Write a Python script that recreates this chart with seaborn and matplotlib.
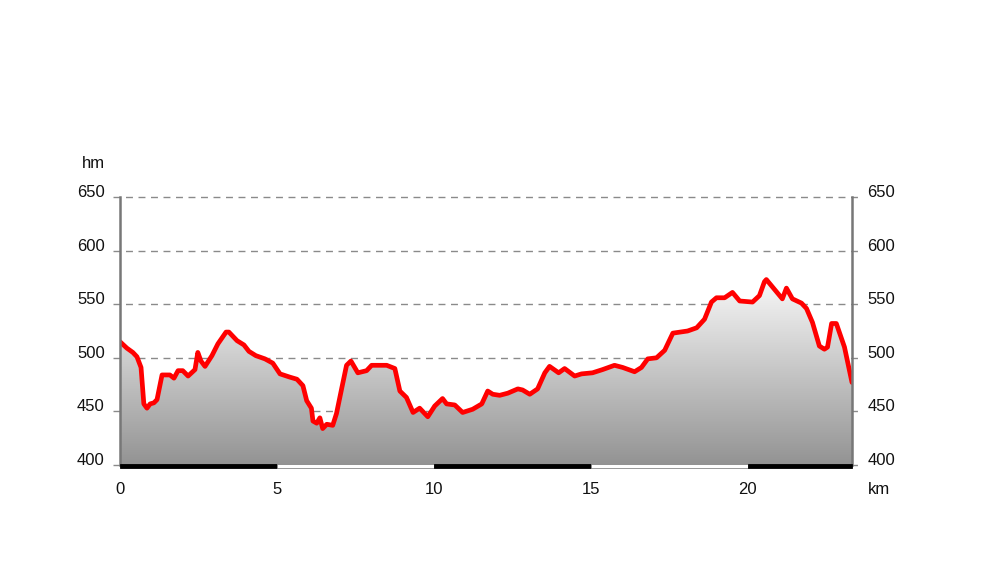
import numpy as np
import pandas as pd
import matplotlib
matplotlib.use("Agg")
import matplotlib.pyplot as plt
import matplotlib.transforms as mtransforms
from matplotlib.patches import Rectangle
import seaborn as sns

# ---- data ----
km = [0.0, 0.22, 0.41, 0.54, 0.67, 0.76, 0.86, 0.96, 1.08, 1.18, 1.34, 1.59, 1.72, 1.85,
      2.0, 2.17, 2.39, 2.48, 2.58, 2.71, 2.93, 3.12, 3.38, 3.47, 3.73, 3.95, 4.11, 4.33,
      4.62, 4.87, 5.1, 5.41, 5.64, 5.83, 5.95, 6.1, 6.15, 6.27, 6.37, 6.46, 6.59, 6.78,
      6.9, 7.07, 7.22, 7.36, 7.58, 7.86, 8.02, 8.5, 8.76, 8.92, 9.13, 9.34, 9.55, 9.81,
      10.03, 10.28, 10.41, 10.67, 10.92, 11.24, 11.53, 11.72, 11.88, 12.1, 12.36, 12.68,
      12.83, 13.06, 13.31, 13.54, 13.69, 13.98, 14.17, 14.49, 14.71, 15.06, 15.38, 15.76,
      16.02, 16.4, 16.62, 16.82, 17.1, 17.36, 17.62, 18.09, 18.38, 18.63, 18.85, 19.01,
      19.27, 19.52, 19.75, 20.16, 20.38, 20.54, 20.6, 21.11, 21.24, 21.43, 21.72, 21.88,
      22.07, 22.29, 22.45, 22.55, 22.68, 22.83, 23.09, 23.33]
elev = [515, 509, 505, 501, 491, 457, 453, 457, 458, 461, 484, 484, 481, 488,
        488, 483, 489, 505, 497, 492, 502, 513, 524, 524, 516, 512, 506, 502,
        499, 495, 485, 482, 480, 474, 460, 453, 441, 439, 444, 434, 438, 437,
        448, 472, 493, 497, 486, 488, 493, 493, 490, 469, 463, 449, 453, 445,
        455, 462, 457, 456, 449, 452, 457, 469, 466, 465, 467, 471,
        470, 466, 471, 486, 492, 486, 490, 483, 485, 486, 489, 493,
        491, 487, 491, 499, 500, 507, 523, 525, 528, 536, 552, 556,
        556, 561, 553, 552, 558, 571, 573, 555, 565, 555, 551, 546,
        533, 511, 508, 510, 532, 532, 510, 477]
y_ticks = [400, 450, 500, 550, 600, 650]
x_ticks = [0, 5, 10, 15, 20]
scale_edges = [0, 5, 10, 15, 20, 23.33]

df = pd.DataFrame({"km": km, "elev": elev})

sns.set_style("white")
plt.rcParams["font.family"] = ["Liberation Sans", "DejaVu Sans"]
FS = 12

fig = plt.figure(figsize=(10, 5.84), dpi=100)
ax = fig.add_axes([0.12, 1 - 465 / 584, 0.732, (465 - 197) / 584])
xmax = km[-1]

# gradient fill under the profile
grad = np.linspace(0, 1, 256).reshape(-1, 1)
cmap = matplotlib.colors.LinearSegmentedColormap.from_list("g", ["#939393", "#ffffff"])
im = ax.imshow(grad, aspect="auto", cmap=cmap, origin="lower",
               extent=[0, xmax, 400, 585], zorder=1)
poly = ax.fill_between(df["km"], df["elev"], 400, color="none", lw=0)
path = poly.get_paths()[0]
im.set_clip_path(path, transform=ax.transData)
ax.set_ylim(400, 650)
ax.set_xlim(0, xmax)

# grid lines (dashed)
for yv in y_ticks:
    ax.axhline(yv, xmin=-0.009, xmax=1.009, color="#8a8a8a", lw=1.0,
               ls=(0, (5, 4)), clip_on=False, zorder=0.5)

# profile line
sns.lineplot(data=df, x="km", y="elev", ax=ax, color="#ff0000", lw=3.4,
             zorder=5, solid_joinstyle="round", solid_capstyle="round")
ax.set_ylim(400, 650)
ax.set_xlim(0, xmax)

# vertical side lines
for s in ["top", "bottom"]:
    ax.spines[s].set_visible(False)
for s in ["left", "right"]:
    ax.spines[s].set_color("#777777")
    ax.spines[s].set_linewidth(1.8)
    ax.spines[s].set_zorder(6)

# bottom distance scale bar
trans = mtransforms.blended_transform_factory(ax.transData, ax.transAxes)
for i in range(len(scale_edges) - 1):
    a, b = scale_edges[i], scale_edges[i + 1]
    fc = "#000000" if i % 2 == 0 else "#ffffff"
    ax.add_patch(Rectangle((a, -0.013), b - a, 0.016, transform=trans,
                           facecolor=fc, edgecolor="#888888" if i % 2 else "#000000",
                           lw=0.6, clip_on=False, zorder=7))

ax.set_xticks(x_ticks)
ax.set_xticklabels([str(v) for v in x_ticks])
ax.set_yticks(y_ticks)
ax.set_yticklabels([str(v) for v in y_ticks])
ax.tick_params(axis="both", length=0, labelsize=FS, colors="#111111")
ax.tick_params(axis="x", pad=12)
ax.tick_params(axis="y", labelright=True, right=False)
ax.yaxis.set_tick_params(which="major", pad=11)
for t in ax.yaxis.get_major_ticks():
    t.label1.set_verticalalignment("baseline")
    t.label2.set_verticalalignment("baseline")
    t.label2.set_transform(t.label2.get_transform() + mtransforms.ScaledTranslation(0, 0, fig.dpi_scale_trans))
ax.set_xlabel("")
ax.set_ylabel("")

fig.text(0.093, 1 - 164 / 584, "hm", ha="center", va="center", fontsize=FS, color="#111111")
fig.text(0.879, 1 - 490 / 584, "km", ha="center", va="center", fontsize=FS, color="#111111")

fig.savefig("out.png", dpi=100, facecolor="white")
